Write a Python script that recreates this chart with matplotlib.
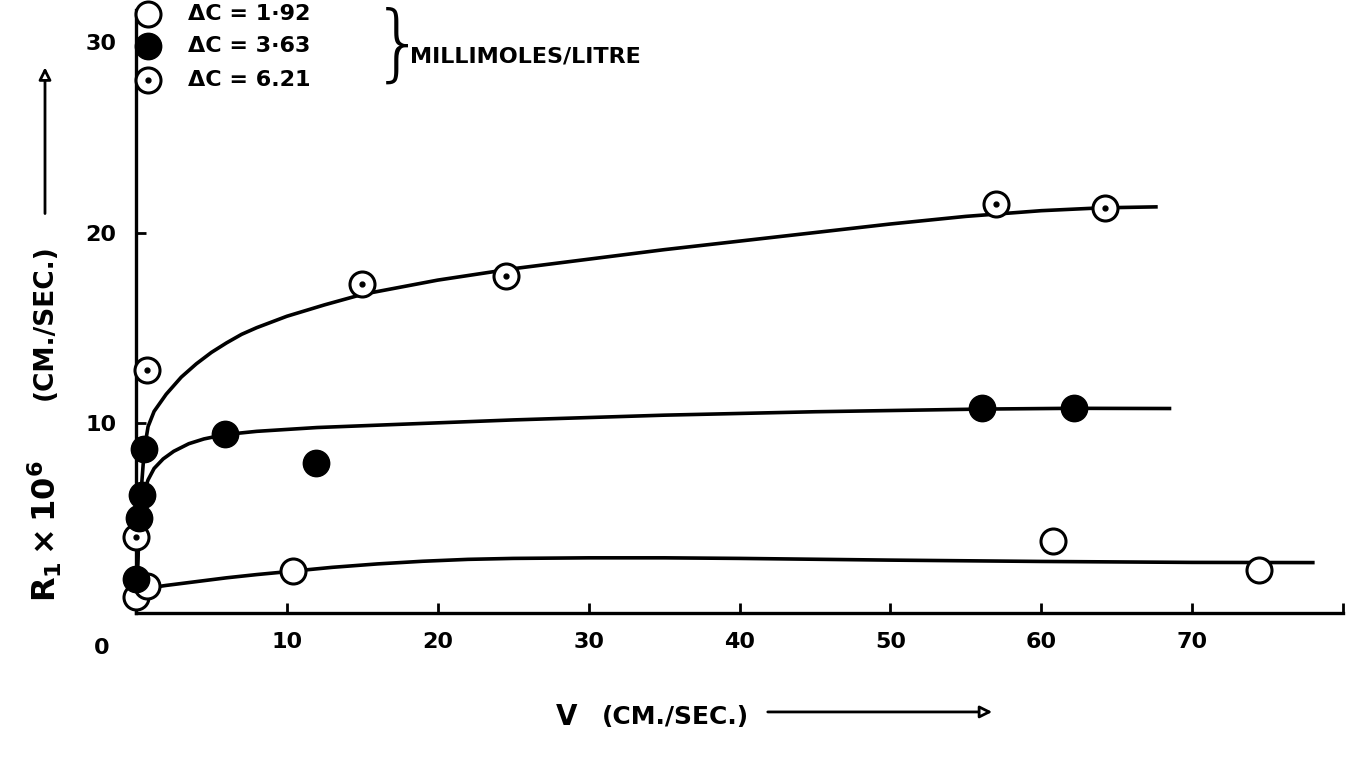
import numpy as np
import matplotlib.pyplot as plt

plt.rcParams['font.family'] = ['DejaVu Sans']

# measured points, dC = 1.92 (open circles)
v_192 = [0.0, 0.7, 10.4, 60.8, 74.4]
r_192 = [0.85, 1.4, 2.2, 3.8, 2.25]
# dC = 3.63 (filled circles)
v_363 = [0.0, 0.2, 0.4, 0.55, 5.9, 11.9, 56.1, 62.2]
r_363 = [1.8, 5.0, 6.2, 8.6, 9.4, 7.9, 10.8, 10.8]
# dC = 6.21 (circles with dot)
v_621 = [0.0, 0.75, 15.0, 24.5, 57.0, 64.2]
r_621 = [4.0, 12.8, 17.3, 17.7, 21.5, 21.3]

# hand drawn curves
cv_192 = [0.0, 0.7, 2.0, 4.0, 6.0, 8.0, 10.4, 13.0, 16.0, 19.0, 22.0, 25.0, 30.0, 35.0, 40.0,
          50.0, 60.0, 70.0, 78.0]
cr_192 = [0.8, 1.3, 1.45, 1.65, 1.85, 2.02, 2.2, 2.4, 2.58, 2.72, 2.82, 2.87, 2.9, 2.9, 2.87,
          2.78, 2.71, 2.66, 2.65]
cv_363 = [0.0, 0.15, 0.3, 0.5, 0.8, 1.2, 1.8, 2.5, 3.5, 4.5, 5.9, 8.0, 12.0, 17.5, 25.0, 35.0,
          45.0, 56.0, 62.0, 68.5]
cr_363 = [0.5, 3.2, 5.2, 6.3, 7.0, 7.6, 8.1, 8.5, 8.9, 9.15, 9.38, 9.55, 9.75, 9.92, 10.15, 10.4,
          10.58, 10.72, 10.76, 10.75]
cv_621 = [0.0, 0.15, 0.35, 0.55, 0.8, 1.2, 2.0, 3.0, 4.0, 5.0, 6.0, 7.0, 8.0, 10.0, 12.5, 15.0,
          20.0, 25.0, 30.0, 35.0, 40.0, 45.0, 50.0, 55.0, 60.0, 64.0, 67.6]
cr_621 = [0.5, 3.5, 6.5, 8.6, 9.8, 10.6, 11.5, 12.4, 13.1, 13.7, 14.2, 14.65, 15.0, 15.6, 16.2,
          16.75, 17.5, 18.1, 18.6, 19.1, 19.55, 20.0, 20.45, 20.85, 21.15, 21.3, 21.35]

xticks = [10, 20, 30, 40, 50, 60, 70]
yticks = [10, 20, 30]

fig = plt.figure(figsize=(13.56, 7.59), dpi=100)
ax = fig.add_axes([136 / 1356, 146 / 759, 1207 / 1356, 603 / 759])
ax.set_xlim(0, 80)
ax.set_ylim(0, 31.7)

lw = 2.6
for cv, cr in [(cv_192, cr_192), (cv_363, cr_363), (cv_621, cr_621)]:
    ax.plot(cv, cr, color='black', lw=lw, clip_on=False, solid_joinstyle='round')

ms = 18
mew = 2.2
ax.plot(v_192, r_192, 'o', ms=ms, mfc='white', mec='black', mew=mew, clip_on=False, zorder=3)
ax.plot(v_621, r_621, 'o', ms=ms, mfc='white', mec='black', mew=mew, clip_on=False, zorder=3)
ax.plot(v_621, r_621, 'o', ms=3.5, color='black', clip_on=False, zorder=4)
ax.plot(v_363, r_363, 'o', ms=ms + 1, mfc='black', mec='black', clip_on=False, zorder=5)

for s in ['top', 'right']:
    ax.spines[s].set_visible(False)
for s in ['left', 'bottom']:
    ax.spines[s].set_linewidth(2.4)

ax.set_xticks(xticks + [80])
ax.set_xticklabels([str(t) for t in xticks] + [''])
ax.set_yticks(yticks)
ax.set_yticklabels([str(t) for t in yticks])
ax.tick_params(direction='in', length=7, width=2, labelsize=16, pad=14)
for lab in ax.get_xticklabels() + ax.get_yticklabels():
    lab.set_fontweight('bold')
ax.text(-2.3, -1.3, '0', fontsize=16, fontweight='bold', ha='center', va='top')

# legend drawn by hand
leg_y = [0.982, 0.939, 0.895]
leg_txt = ['\u0394C = 1\u00b792', '\u0394C = 3\u00b763', '\u0394C = 6.21']
fig.lines.append(plt.Line2D([148 / 1356], [leg_y[0]], marker='o', ms=ms, mfc='white', mec='black',
                            mew=mew, transform=fig.transFigure))
fig.lines.append(plt.Line2D([148 / 1356], [leg_y[1]], marker='o', ms=ms + 1, mfc='black', mec='black',
                            transform=fig.transFigure))
fig.lines.append(plt.Line2D([148 / 1356], [leg_y[2]], marker='o', ms=ms, mfc='white', mec='black',
                            mew=mew, transform=fig.transFigure))
fig.lines.append(plt.Line2D([148 / 1356], [leg_y[2]], marker='o', ms=3.5, color='black',
                            transform=fig.transFigure))
for y, t in zip(leg_y, leg_txt):
    fig.text(188 / 1356, y, t, fontsize=16, fontweight='bold', va='center')
fig.text(372 / 1356, 0.938, '}', fontsize=60, fontweight='light', va='center')
fig.text(410 / 1356, 0.925, 'MILLIMOLES/LITRE', fontsize=16, fontweight='bold', va='center')

# axis titles
fig.text(45 / 1356, 0.30, r'$\mathbf{R_{1} \times 10^{6}}$', fontsize=23, rotation=90,
         ha='center', va='center')
fig.text(45 / 1356, 0.575, '(CM./SEC.)', fontsize=19, fontweight='bold', rotation=90,
         ha='center', va='center')
ax.annotate('', xy=(45 / 1356, 0.915), xytext=(45 / 1356, 0.715), xycoords='figure fraction',
            arrowprops=dict(arrowstyle='-|>', lw=2, color='black', mutation_scale=18, fc='white'))

fig.text(567 / 1356, 0.055, 'V', fontsize=20, fontweight='bold', ha='center', va='center')
fig.text(675 / 1356, 0.055, '(CM./SEC.)', fontsize=18, fontweight='bold', ha='center', va='center')
ax.annotate('', xy=(995 / 1356, 0.062), xytext=(765 / 1356, 0.062), xycoords='figure fraction',
            arrowprops=dict(arrowstyle='-|>', lw=2, color='black', mutation_scale=18, fc='white'))

fig.savefig('out.png', dpi=100)
